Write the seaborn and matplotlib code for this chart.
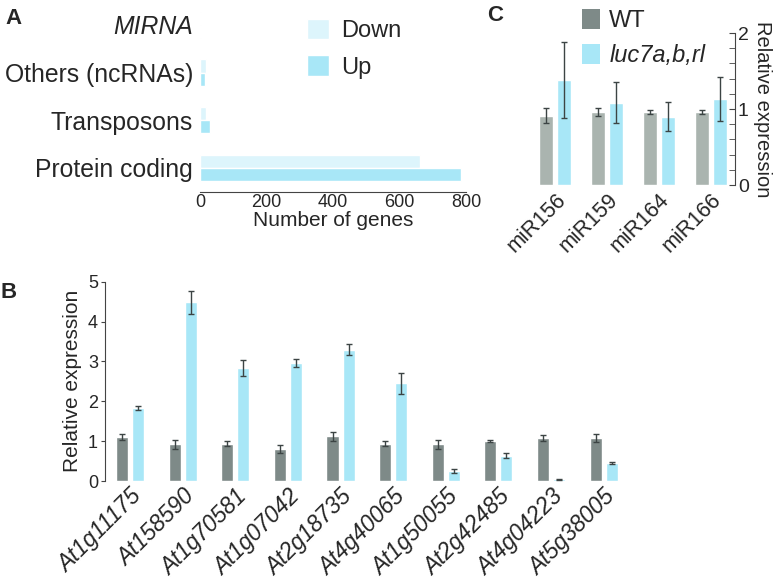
import matplotlib
matplotlib.use("Agg")
import numpy as np
import pandas as pd
import matplotlib.pyplot as plt
import seaborn as sns
from matplotlib.ticker import MultipleLocator
from matplotlib.patches import Patch

sns.set_style("white")
plt.rcParams['font.family'] = ['Liberation Sans', 'DejaVu Sans']

# ---- panel A: differentially expressed genes by class ----
a_categories = ["MIRNA", "Others (ncRNAs)", "Transposons", "Protein coding"]
a_down = [2, 17, 17, 662]
a_up = [3, 16, 30, 786]

# ---- panel B: qPCR of selected genes ----
b_genes = ["At1g11175", "At158590", "At1g70581", "At1g07042", "At2g18735",
           "At4g40065", "At1g50055", "At2g42485", "At4g04223", "At5g38005"]
b_wt = [1.10, 0.92, 0.94, 0.81, 1.12, 0.94, 0.92, 1.01, 1.08, 1.08]
b_wt_err = [0.08, 0.11, 0.07, 0.10, 0.11, 0.07, 0.12, 0.02, 0.08, 0.09]
b_mut = [1.82, 4.48, 2.83, 2.96, 3.29, 2.45, 0.26, 0.63, 0.04, 0.45]
b_mut_err = [0.05, 0.28, 0.20, 0.11, 0.14, 0.27, 0.05, 0.06, 0.01, 0.03]

# ---- panel C: miRNA levels ----
c_mirnas = ["miR156", "miR159", "miR164", "miR166"]
c_wt = [0.91, 0.96, 0.96, 0.96]
c_wt_err = [0.10, 0.05, 0.03, 0.03]
c_mut = [1.38, 1.08, 0.90, 1.13]
c_mut_err = [0.50, 0.27, 0.19, 0.29]

genotypes = ["WT", "luc7a,b,rl"]

BLUE = "#a8e7f7"
PALE = "#ddf5fc"
DARK_GRAY = "#7e8a88"
LIGHT_GRAY = "#aab4af"
ERR = "#3c4444"
AXIS = "#444444"

W, H = 777, 585
fig = plt.figure(figsize=(7.77, 5.85), dpi=100)


def fig_rect(x0, y_top, x1, y_bot):
    return [x0 / W, 1 - y_bot / H, (x1 - x0) / W, (y_bot - y_top) / H]


def add_errors(ax, errs):
    for cont, err in zip(ax.containers, errs):
        xs = [p.get_x() + p.get_width() / 2 for p in cont]
        ys = [p.get_height() for p in cont]
        ax.errorbar(xs, ys, yerr=err, fmt="none", ecolor=ERR,
                    elinewidth=1, capsize=2.5, capthick=1)


def tilt_labels(ax, italic=False):
    for lab in ax.get_xticklabels():
        lab.set_rotation(45)
        lab.set_ha("right")
        lab.set_va("top")
        lab.set_rotation_mode("anchor")
        if italic:
            lab.set_style("italic")


# ==========================================
# Panel A
# ==========================================
df_a = pd.DataFrame({
    "category": a_categories * 2,
    "count": a_down + a_up,
    "direction": ["Down"] * len(a_down) + ["Up"] * len(a_up),
})
ax_a = fig.add_axes(fig_rect(200, 1, 466, 191.7))
sns.barplot(data=df_a, y="category", x="count", hue="direction", orient="h",
            palette={"Down": PALE, "Up": BLUE}, width=0.55, saturation=1,
            errorbar=None, ax=ax_a)
ax_a.set_xlim(0, 800)
ax_a.set_ylim(3.5, -0.5)
for s in ["top", "right", "left"]:
    ax_a.spines[s].set_visible(False)
ax_a.spines["bottom"].set_color(AXIS)
ax_a.xaxis.set_major_locator(MultipleLocator(200))
ax_a.xaxis.set_minor_locator(MultipleLocator(100))
ax_a.tick_params(axis="x", which="both", direction="in", length=4,
                 color=AXIS, labelsize=13, pad=2)
ax_a.tick_params(axis="y", length=0, labelsize=17.8, pad=5)
ax_a.get_yticklabels()[0].set_style("italic")
ax_a.set_ylabel("")
ax_a.set_xlabel("Number of genes", fontsize=15, labelpad=0)
ax_a.legend(frameon=False, fontsize=17, loc="upper left",
            bbox_to_anchor=(307 / W, 1 - 19 / H), bbox_transform=fig.transFigure,
            borderpad=0, borderaxespad=0, handlelength=0.95, handleheight=0.95,
            handletextpad=0.5, labelspacing=0.55)

# ==========================================
# Panel B
# ==========================================
df_b = pd.DataFrame({
    "gene": b_genes * 2,
    "value": b_wt + b_mut,
    "genotype": [genotypes[0]] * len(b_wt) + [genotypes[1]] * len(b_mut),
})
ax_b = fig.add_axes(fig_rect(105, 281.7, 630, 481))
sns.barplot(data=df_b, x="gene", y="value", hue="genotype",
            palette={genotypes[0]: DARK_GRAY, genotypes[1]: BLUE},
            width=0.61, gap=0.25, saturation=1, errorbar=None,
            legend=False, ax=ax_b)
add_errors(ax_b, [b_wt_err, b_mut_err])
ax_b.set_xlim(-0.475, 9.5)
ax_b.set_ylim(0, 5)
for s in ["top", "right", "bottom"]:
    ax_b.spines[s].set_visible(False)
ax_b.spines["left"].set_color(AXIS)
ax_b.yaxis.set_major_locator(MultipleLocator(1))
ax_b.tick_params(axis="y", direction="out", length=3, color=AXIS,
                 labelsize=13, pad=2, left=True)
ax_b.tick_params(axis="x", length=0, labelsize=16.5, pad=3)
tilt_labels(ax_b, italic=True)
ax_b.set_xlabel("")
ax_b.set_ylabel("Relative expression", fontsize=15, labelpad=4)

# ==========================================
# Panel C
# ==========================================
df_c = pd.DataFrame({
    "mirna": c_mirnas * 2,
    "value": c_wt + c_mut,
    "genotype": [genotypes[0]] * len(c_wt) + [genotypes[1]] * len(c_mut),
})
ax_c = fig.add_axes(fig_rect(529, 33, 735, 185))
sns.barplot(data=df_c, x="mirna", y="value", hue="genotype",
            palette={genotypes[0]: LIGHT_GRAY, genotypes[1]: BLUE},
            width=0.69, gap=0.255, saturation=1, errorbar=None,
            legend=False, ax=ax_c)
add_errors(ax_c, [c_wt_err, c_mut_err])
ax_c.set_xlim(-0.5, 3.46)
ax_c.set_ylim(0, 2)
for s in ["top", "left", "bottom"]:
    ax_c.spines[s].set_visible(False)
ax_c.spines["right"].set_color(AXIS)
ax_c.yaxis.tick_right()
ax_c.yaxis.set_major_locator(MultipleLocator(1))
ax_c.yaxis.set_minor_locator(MultipleLocator(0.2))
ax_c.tick_params(axis="y", which="both", direction="in", length=4, color=AXIS,
                 labelsize=14, pad=2, right=True, left=False)
ax_c.tick_params(axis="x", length=0, labelsize=15.5, pad=3)
tilt_labels(ax_c)
ax_c.set_xlabel("")
ax_c.yaxis.set_label_position("right")
ax_c.set_ylabel("Relative expression", fontsize=14.5, rotation=270,
                va="bottom", labelpad=3)
handles = [Patch(facecolor=DARK_GRAY, edgecolor="none"),
           Patch(facecolor=BLUE, edgecolor="none")]
leg = ax_c.legend(handles, genotypes, frameon=False, fontsize=17,
                  loc="upper left", bbox_to_anchor=(582 / W, 1 - 9 / H),
                  bbox_transform=fig.transFigure, borderpad=0, borderaxespad=0,
                  handlelength=0.75, handleheight=0.95, handletextpad=0.4,
                  labelspacing=0.5)
leg.get_texts()[1].set_style("italic")

# panel letters
fig.text(5 / W, 1 - 8 / H, "A", fontsize=16, fontweight="bold", va="top")
fig.text(1 / W, 1 - 282 / H, "B", fontsize=16, fontweight="bold", va="top")
fig.text(487 / W, 1 - 5 / H, "C", fontsize=16, fontweight="bold", va="top")

fig.savefig("out.png", dpi=100)
